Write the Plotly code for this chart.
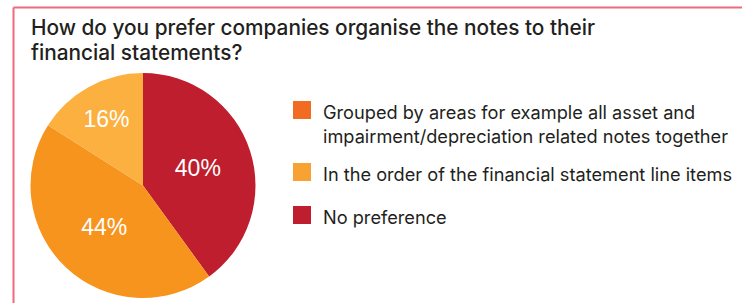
import plotly.graph_objects as go

title_lines = ["How do you prefer companies organise the notes to their", "financial statements?"]
labels = ["No preference", "Grouped by areas for example all asset and impairment/depreciation related notes together", "In the order of the financial statement line items"]
values = [40, 44, 16]
slice_colors = ["#BE1E2D", "#F7941D", "#FBB040"]

legend_labels = ["Grouped by areas for example all asset and<br>impairment/depreciation related notes together",
                 "In the order of the financial statement line items",
                 "No preference"]
legend_colors = ["#F26B22", "#F9A234", "#BE1E2D"]

W, H = 742, 303
FONT = "Inter, Liberation Sans, Arial, sans-serif"
fig = go.Figure(go.Pie(
    labels=labels, values=values, sort=False, direction="clockwise", rotation=0,
    marker=dict(colors=slice_colors, line=dict(width=0)),
    textinfo="percent", textposition="inside", insidetextorientation="horizontal",
    textfont=dict(family="Liberation Sans, Arial, sans-serif", size=23, color="white"),
    domain=dict(x=[29 / W, 257 / W], y=[1 - 298 / H, 1 - 73 / H]),
    showlegend=False, hoverinfo="label+percent",
))

shapes = [
    dict(type="line", xref="paper", yref="paper", x0=13.5 / W, x1=1.05, y0=1 - 7.5 / H, y1=1 - 7.5 / H,
         line=dict(color="#EE6B7D", width=2)),
    dict(type="line", xref="paper", yref="paper", x0=13.5 / W, x1=13.5 / W, y0=-0.05, y1=1 - 7.5 / H,
         line=dict(color="#EE6B7D", width=2)),
]
annotations = []
for i, t in enumerate(title_lines):
    annotations.append(dict(text=t, xref="paper", yref="paper", x=29 / W, y=1 - (27.5 + 25 * i) / H,
                            xanchor="left", yanchor="middle", showarrow=False, align="left",
                            font=dict(family=FONT, size=20.8, color="#231F20", weight=500)))

centers = [110, 172, 215]
for lab, col, cy in zip(legend_labels, legend_colors, centers):
    shapes.append(dict(type="rect", xref="paper", yref="paper", x0=293 / W, x1=311 / W,
                       y0=1 - (cy + 9) / H, y1=1 - (cy - 9) / H, fillcolor=col, line=dict(width=0)))
    annotations.append(dict(text=lab, xref="paper", yref="paper", x=321 / W, y=1 - (cy - 11) / H,
                            xanchor="left", yanchor="top", showarrow=False, align="left",
                            font=dict(family=FONT, size=18.2, color="#231F20")))

fig.update_layout(width=W, height=H, margin=dict(l=0, r=0, t=0, b=0),
                  paper_bgcolor="white", plot_bgcolor="white",
                  shapes=shapes, annotations=annotations)
fig.write_html("out.html", config={"displayModeBar": False, "responsive": False},
               post_script="document.body.style.margin='0px';document.body.style.overflow='hidden';")
